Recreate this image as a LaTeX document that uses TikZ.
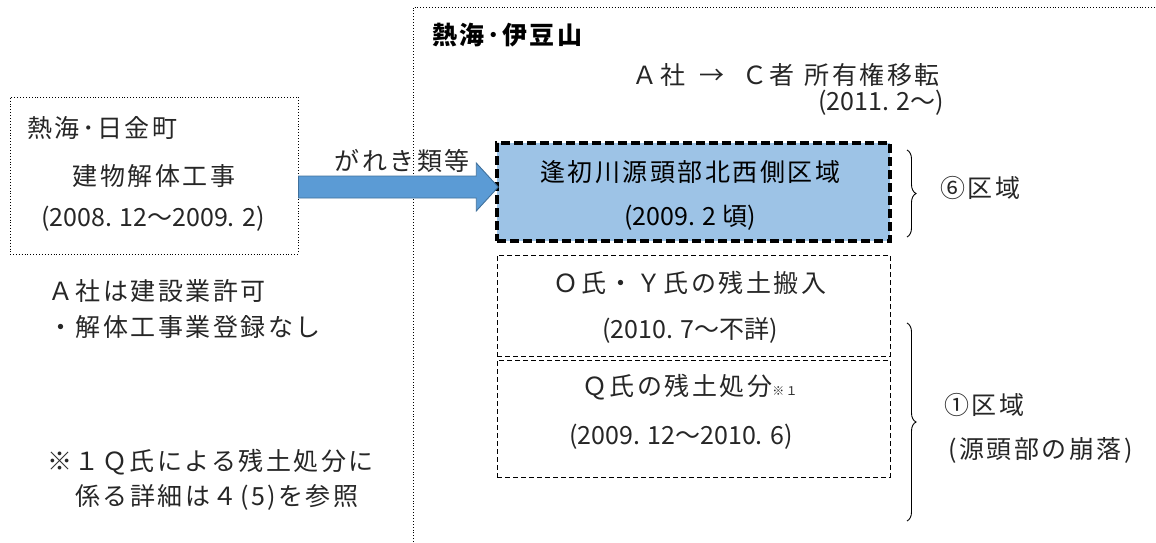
\documentclass[tikz,border=0pt]{standalone}
\usepackage{fontspec}
\setmainfont{Noto Sans CJK JP}[LetterSpace=10]
\newfontfamily\datefont{Noto Sans CJK JP}
\usetikzlibrary{decorations.pathreplacing,calc}
\definecolor{boxblue}{HTML}{9DC3E6}
\definecolor{arrowfill}{HTML}{5B9BD5}
\definecolor{arrowline}{HTML}{41719C}
\begin{document}
\begin{tikzpicture}[x=1pt,y=-1pt,
  txt/.style={font=\fontsize{25}{29}\selectfont, inner sep=0pt, text=black!85},
  dtxt/.style={font=\fontsize{25}{29}\selectfont\datefont, inner sep=0pt, text=black!85},
  gtxt/.style={font=\fontsize{25}{29}\selectfont\bfseries, inner sep=0pt, text=black},
  dotbox/.style={draw, dotted, line width=0.9pt, inner sep=0pt},
  dashbox/.style={draw, line width=0.9pt, dash pattern=on 5pt off 3pt, inner sep=0pt},
  keybox/.style={draw, fill=boxblue, line width=3.5pt, dash pattern=on 9pt off 4pt, inner sep=0pt},
  bracestyle/.style={decorate, decoration={brace, amplitude=9pt}, line width=0.9pt},
  fatarrow/.style={fill=arrowfill, draw=arrowline, line width=0.9pt}]
\useasboundingbox (0,0) rectangle (1156,542);
% region outline (open to the right and bottom)
\coordinate (regTL) at (413,7);
\coordinate (regTR) at (1156,7);
\coordinate (regBL) at (413,542);
\draw[dotted, line width=0.9pt] (regBL) -- (regTL) -- (regTR);
\node[gtxt, anchor=west] (izusan) at (432,35) {熱海･伊豆山};
\node[txt] (owner) at (786,75) {Ａ社\hspace{14pt}→\hspace{18pt}Ｃ者\hspace{10pt}所有権移転};
\node[dtxt] (ownerdate) at (881,103) {(2011. 2～)};
% left box
\node[dotbox, minimum width=288pt, minimum height=157pt] (leftbox) at (154,175.5) {};
\node[txt, anchor=west] (hinokane) at (27,128) {熱海･日金町};
\node[txt] (demo) at (154,176) {建物解体工事};
\node[dtxt] (demodate) at (153,219) {(2008. 12～2009. 2)};
% notes
\node[txt, anchor=west] (noteA1) at (48,291) {Ａ社は建設業許可};
\node[txt, anchor=west] (noteA2) at (48,327) {・解体工事業登録なし};
\node[txt, anchor=west] (noteB1) at (47,462) {※１Ｑ氏による残土処分に};
\node[txt, anchor=west] (noteB2) at (75,497) {係る詳細は４(5)を参照};
% boxes
\node[keybox, minimum width=393pt, minimum height=98pt] (blue) at (693.5,192) {};
\node[txt, text=black] (blue1) at (690,172) {逢初川源頭部北西側区域};
\node[dtxt, text=black] (blue2) at (690,218) {(2009. 2 頃)};
\node[dashbox, minimum width=393pt, minimum height=101pt] (oy) at (693.5,305.5) {};
\node[txt] (oy1) at (690,283) {Ｏ氏・Ｙ氏の残土搬入};
\node[dtxt] (oy2) at (690,330) {(2010. 7～不詳)};
\node[dashbox, minimum width=393pt, minimum height=117pt] (q) at (693.5,418.5) {};
\node[txt] (q1) at (690,387) {Ｑ氏の残土処分{\fontsize{12}{14}\selectfont ※１}};
\node[dtxt] (q2) at (681,437) {(2009. 12～2010. 6)};
% arrow
\coordinate (aS) at ($(leftbox.east |- 0,187)$);
\coordinate (aE) at ($(blue.west |- 0,187)+(3,0)$);
\draw[fatarrow] ($(aS)+(0,-11)$) -- ($(aE)+(-22,-11)$) -- ($(aE)+(-22,-24)$) -- (aE)
  -- ($(aE)+(-22,24)$) -- ($(aE)+(-22,11)$) -- ($(aS)+(0,11)$) -- cycle;
\node[txt] (rubble) at (402,161) {がれき類等};
% braces
\coordinate (b6t) at (907,150);
\coordinate (b6b) at (907,237);
\draw[bracestyle] (b6t) -- (b6b);
\node[txt, anchor=west] (z6) at (940,188) {⑥区域};
\coordinate (b1t) at (907,323);
\coordinate (b1b) at (907,521);
\draw[bracestyle] (b1t) -- (b1b);
\node[txt, anchor=west] (z1) at (944,405) {①区域};
\node[txt, anchor=west] (z1b) at (948,450) {(源頭部の崩落)};
\end{tikzpicture}
\end{document}
